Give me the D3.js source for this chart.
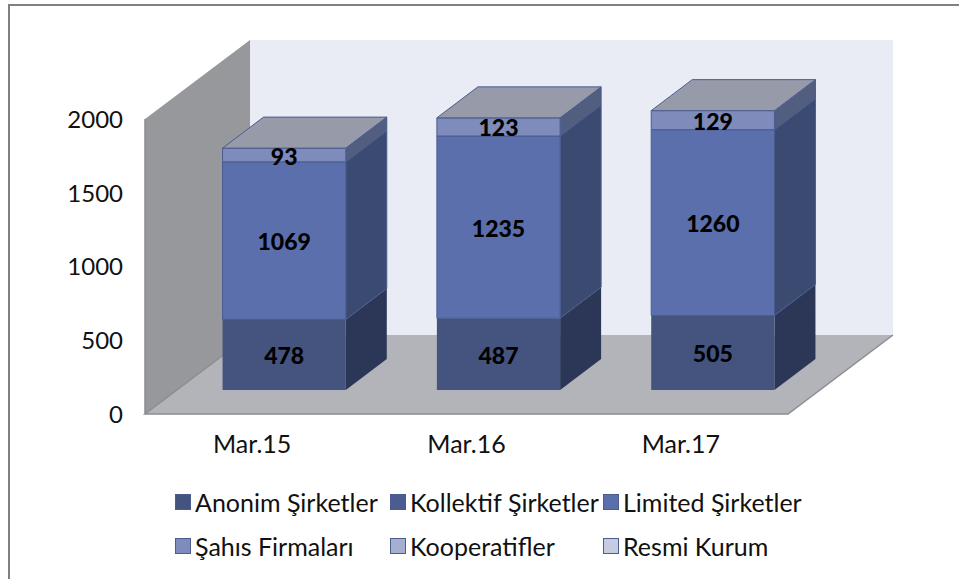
<!DOCTYPE html>
<html>
<head>
<meta charset="utf-8">
<script src="https://cdn.jsdelivr.net/npm/d3@7"></script>
<style>
  html, body { margin: 0; padding: 0; background: #fff; }
  svg { display: block; }
  text { font-family: "Lato", "Open Sans", sans-serif; fill: #111; }
</style>
</head>
<body>
<svg id="chart" width="959" height="579"></svg>
<script>
// values
const dates = ['Mar.15', 'Mar.16', 'Mar.17'];
const seriesNames = ['Anonim Şirketler', 'Kollektif  Şirketler', 'Limited Şirketler', 'Şahıs Firmaları', 'Kooperatifler', 'Resmi Kurum'];
const anonim = [478, 487, 505];
const kollektif = [0, 0, 0];
const limited = [1069, 1235, 1260];
const sahis = [93, 123, 129];
const kooperatif = [0, 0, 0];
const resmi = [0, 0, 0];
const yTicks = [0, 500, 1000, 1500, 2000];

const frontColors = ['#44547f', '#4a5c90', '#5a6fab', '#7e8bbb', '#a5afd0', '#c5cbe0'];
const sideColors = ['#2c3757', '#313d61', '#3b4a70', '#525e80', '#6b7596', '#8c94ae'];
const topColor = '#979aa8';
const edgeColor = '#4a5c90';

const svg = d3.select('#chart');
const depthX = 105, depthY = -79;       // floor depth
const barDX = 32, barDY = -24;          // where the bars stand on the floor
const barSideX = 41, barSideY = -31;    // bar depth

const x = d3.scaleBand().domain(dates).range([145, 788]).paddingInner(0.425).paddingOuter(0.2125);
const y = d3.scaleLinear().domain([0, 2000]).range([414, 119]);

function poly(pts, fill, stroke) {
    return svg.append('polygon')
        .attr('points', pts.map(p => p.join(',')).join(' '))
        .attr('fill', fill)
        .attr('stroke', stroke || 'none');
}

// chart frame, only the top and left edges are inside the picture
svg.append('path')
    .attr('d', d3.line()([[9, 579], [9, 5], [959, 5]]))
    .attr('fill', 'none')
    .attr('stroke', '#808080')
    .attr('stroke-width', 2);

// back wall, side wall, floor
const x0 = x.range()[0], x1 = x.range()[1];
poly([[x0 + depthX, y(2000) + depthY], [x1 + depthX, y(2000) + depthY], [x1 + depthX, y(0) + depthY], [x0 + depthX, y(0) + depthY]], '#e9ecf5');
poly([[x0, y(0)], [x0, y(2000)], [x0 + depthX, y(2000) + depthY], [x0 + depthX, y(0) + depthY]], '#97989c');
poly([[x0, y(0)], [x1, y(0)], [x1 + depthX, y(0) + depthY], [x0 + depthX, y(0) + depthY]], '#b3b4b9');
svg.append('path')
    .attr('d', d3.line()([[x0 + depthX, y(0) + depthY], [x0, y(0)], [x1, y(0)], [x1 + depthX, y(0) + depthY]]))
    .attr('fill', 'none')
    .attr('stroke', '#8c8d90')
    .attr('stroke-width', 1.5);
svg.append('line')
    .attr('x1', x0).attr('x2', x0).attr('y1', y(0)).attr('y2', y(2000))
    .attr('stroke', '#8c8d90').attr('stroke-width', 1.5);

// axes
const yAxis = d3.axisLeft(y).tickValues(yTicks).tickFormat(d3.format('d')).tickSize(0).tickPadding(22);
const yG = svg.append('g').attr('transform', 'translate(' + x0 + ',0)').call(yAxis);
yG.select('.domain').remove();
yG.selectAll('text').attr('font-size', 24).attr('dy', '.35em').style('font-family', 'Lato');

const xAxis = d3.axisBottom(x).tickSize(0).tickPadding(21);
const xG = svg.append('g').attr('transform', 'translate(0,' + y(0) + ')').call(xAxis);
xG.select('.domain').remove();
xG.selectAll('text').attr('font-size', 25).style('font-family', 'Lato');

// stacked boxes
const table = dates.map((d, i) => ({
    date: d, s0: anonim[i], s1: kollektif[i], s2: limited[i], s3: sahis[i], s4: kooperatif[i], s5: resmi[i]
}));
const stack = d3.stack().keys(['s0', 's1', 's2', 's3', 's4', 's5'])(table);

const labels = [];
stack.forEach((layer, k) => {
    layer.forEach(d => {
        if (d[1] === d[0]) return;
        const left = x(d.data.date) + barDX;
        const right = left + x.bandwidth();
        const yTop = y(d[1]) + barDY, yBot = y(d[0]) + barDY;
        const line = k === 0 ? 'none' : edgeColor;
        poly([[right, yBot], [right + barSideX, yBot + barSideY], [right + barSideX, yTop + barSideY], [right, yTop]], sideColors[k], line);
        poly([[left, yBot], [right, yBot], [right, yTop], [left, yTop]], frontColors[k], line);
        labels.push({ x: (left + right) / 2, y: (yTop + yBot) / 2, v: d[1] - d[0] });
    });
});

// box lids
dates.forEach((d, i) => {
    const total = anonim[i] + kollektif[i] + limited[i] + sahis[i] + kooperatif[i] + resmi[i];
    const left = x(d) + barDX, right = left + x.bandwidth();
    const yTop = y(total) + barDY;
    poly([[left, yTop], [right, yTop], [right + barSideX, yTop + barSideY], [left + barSideX, yTop + barSideY]], topColor, edgeColor);
});

// value labels go last so the lids don't cover them
svg.append('g').selectAll('text')
    .data(labels)
    .enter()
    .append('text')
    .attr('x', d => d.x)
    .attr('y', d => d.y + 1.5)
    .attr('dy', '.35em')
    .attr('text-anchor', 'middle')
    .attr('font-size', 23)
    .attr('font-weight', 900)
    .style('fill', '#000')
    .text(d => d.v);

// legend
const legendX = [175, 390, 603, 175, 390, 603];
const legendY = [502, 502, 502, 546, 546, 546];
const legend = svg.append('g').selectAll('g')
    .data(seriesNames)
    .enter()
    .append('g')
    .attr('transform', (d, i) => 'translate(' + legendX[i] + ',' + legendY[i] + ')');
legend.append('rect')
    .attr('x', 0.5).attr('y', -7.5)
    .attr('width', 15).attr('height', 15)
    .attr('fill', (d, i) => frontColors[i])
    .attr('stroke', edgeColor);
legend.append('text')
    .attr('x', 20)
    .attr('y', 1)
    .attr('dy', '.35em')
    .attr('font-size', 25)
    .style('white-space', 'pre')
    .style('word-spacing', d => d.includes('  ') ? '-3px' : null)
    .text(d => d);
</script>
</body>
</html>
